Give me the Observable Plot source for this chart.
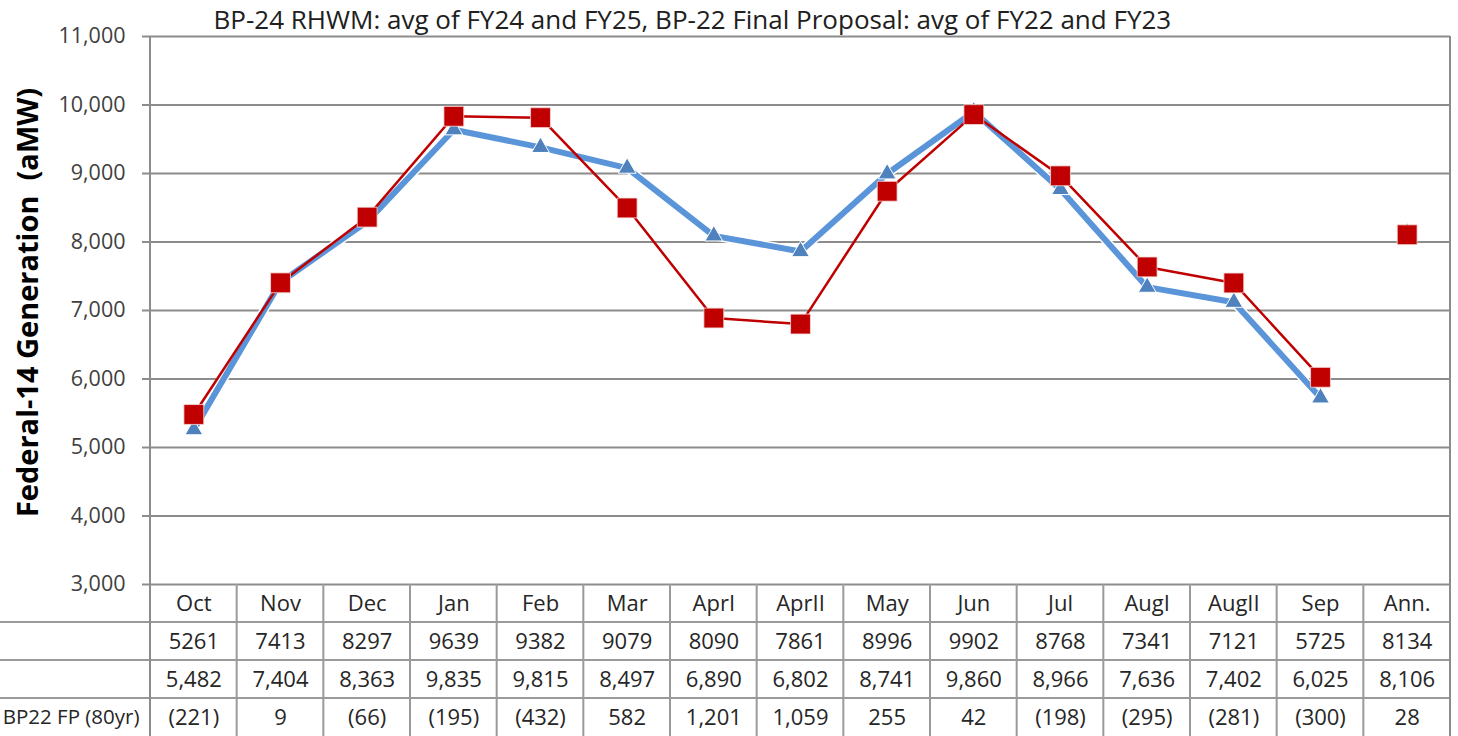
<!DOCTYPE html>
<html>
<head>
<meta charset="utf-8">
<script src="https://cdn.jsdelivr.net/npm/d3@7"></script>
<script src="https://cdn.jsdelivr.net/npm/@observablehq/plot@0.6"></script>
<style>
  html, body { margin: 0; padding: 0; background: #fff; }
  svg { display: block; }
</style>
</head>
<body>
<div id="chart"></div>
<script>
const months = ["Oct","Nov","Dec","Jan","Feb","Mar","AprI","AprII","May","Jun","Jul","AugI","AugII","Sep","Ann."];
const rhwm = [5261,7413,8297,9639,9382,9079,8090,7861,8996,9902,8768,7341,7121,5725,8134];
const bp22 = [5482,7404,8363,9835,9815,8497,6890,6802,8741,9860,8966,7636,7402,6025,8106];
const diffs = [-221,9,-66,-195,-432,582,1201,1059,255,42,-198,-295,-281,-300,28];
const yTicks = [3000,4000,5000,6000,7000,8000,9000,10000,11000];
const title = "BP-24 RHWM: avg of FY24 and FY25, BP-22 Final Proposal: avg of FY22 and FY23";
const yLabel = "Federal-14 Generation  (aMW)";
const diffLabel = "BP22 FP (80yr)";

const rows = months.map((m, i) => ({i, month: m, rhwm: rhwm[i], bp22: bp22[i], diff: diffs[i], annual: m === "Ann."}));
const monthly = rows.filter(d => !d.annual);

const fmtComma = d3.format(",");
const fmtDiff = v => v < 0 ? `(${fmtComma(-v)})` : fmtComma(v);

const W = 1458, H = 736;
const ROW = 38;
const FONT = "'Open Sans', Lato, sans-serif";
const gridColor = "#8c8c8c";
const tableColor = "#9a9a9a";
const blue = "#5b95d9";
const blueMark = "#4f81bd";
const red = "#c00000";
const textColor = "#262626";
const TABLE_FS = 22;

const tableText = (text, row) => Plot.text(rows, {
  x: "i", text, frameAnchor: "bottom", lineAnchor: "middle",
  dy: ROW * (row + 0.5), fontSize: TABLE_FS, fill: textColor
});

const plot = Plot.plot({
  width: W,
  height: H,
  marginLeft: 150,
  marginRight: 8,
  marginTop: 36,
  marginBottom: 152,
  style: {fontFamily: FONT, color: "#404040", background: "#fff", overflow: "visible"},
  x: {type: "linear", domain: [-0.5, months.length - 0.5], axis: null},
  y: {domain: [3000, 11000]},
  marks: [
    Plot.ruleY(yTicks, {stroke: gridColor, strokeWidth: 2}),
    Plot.axisY(yTicks, {tickFormat: d => fmtComma(d), tickSize: 8, tickPadding: 17, fontSize: 21.5, fill: "#404040", stroke: gridColor, strokeWidth: 2, label: null}),
    Plot.text([yLabel], {frameAnchor: "left", textAnchor: "middle", lineAnchor: "middle", rotate: -90, dx: -122, dy: -8, fontSize: 29, fontWeight: "bold", fill: "#000"}),
    Plot.text([title], {frameAnchor: "top-left", textAnchor: "start", lineAnchor: "middle", dx: 63, dy: -16, fontSize: 26, fill: "#202020"}),
    // RHWM series
    Plot.line(monthly, {x: "i", y: "rhwm", stroke: "#fff", strokeWidth: 9}),
    Plot.line(monthly, {x: "i", y: "rhwm", stroke: blue, strokeWidth: 6}),
    Plot.dot(rows, {x: "i", y: "rhwm", symbol: "triangle", r: 6.6, fill: blueMark, stroke: "#fff", strokeWidth: 1}),
    // BP-22 series
    Plot.line(monthly, {x: "i", y: "bp22", stroke: red, strokeWidth: 2.5}),
    Plot.dot(rows, {x: "i", y: "bp22", symbol: "square", r: 11.2, fill: red, stroke: "#f4dcdc", strokeWidth: 0.8}),
    // data table
    tableText("month", 0),
    tableText(d => String(d.rhwm), 1),
    tableText(d => fmtComma(d.bp22), 2),
    tableText(d => fmtDiff(d.diff), 3),
    Plot.text([diffLabel], {frameAnchor: "bottom-left", textAnchor: "end", lineAnchor: "middle", dx: -11, dy: ROW * 3.5, fontSize: 20.5, fill: textColor})
  ]
});

// Table borders drawn from the plot's own scales
const xs = plot.scale("x"), ys = plot.scale("y");
const svg = d3.select(plot);
const g = svg.append("g").attr("stroke", tableColor).attr("stroke-width", 2).attr("fill", "none");
const yBase = ys.apply(3000);
const xLeft = xs.apply(-0.5), xRight = xs.apply(months.length - 0.5);
const yTop = ys.apply(11000);
for (let k = 1; k <= 3; k++) {
  const yy = yBase + k * ROW;
  g.append("line").attr("x1", 0).attr("x2", xRight).attr("y1", yy).attr("y2", yy);
}
for (let i = 1; i < months.length; i++) {
  const xx = xs.apply(i - 0.5);
  g.append("line").attr("x1", xx).attr("x2", xx).attr("y1", yBase).attr("y2", H);
}
g.append("line").attr("x1", xLeft).attr("x2", xLeft).attr("y1", yTop).attr("y2", H).attr("stroke", gridColor);
g.append("line").attr("x1", xRight).attr("x2", xRight).attr("y1", yTop).attr("y2", H).attr("stroke", gridColor);

document.getElementById("chart").appendChild(plot);
</script>
</body>
</html>
